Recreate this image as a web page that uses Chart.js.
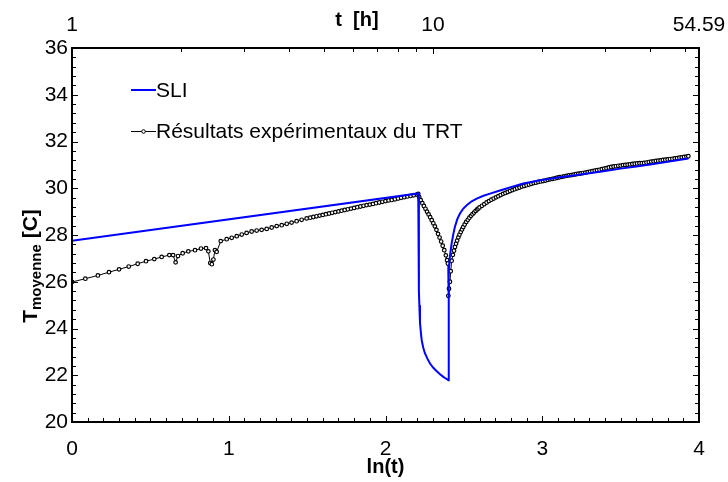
<!DOCTYPE html>
<html><head><meta charset="utf-8">
<script src="https://cdn.jsdelivr.net/npm/chart.js@4.4.0/dist/chart.umd.min.js"></script>
<style>html,body{margin:0;padding:0;background:#fff}#wrap{width:728px;height:482px}</style>
</head><body><div id="wrap"><canvas id="c" width="728" height="482"></canvas></div>
<script>
// ---- data (x = ln(t), t in hours) ----
const sliLabel = 'SLI';
const sliX = [0, 2.209, 2.213, 2.216, 2.220, 2.226, 2.231, 2.240, 2.252, 2.268, 2.284, 2.305, 2.327, 2.348, 2.369, 2.385, 2.401, 2.402, 2.405, 2.411, 2.422, 2.433, 2.443, 2.458, 2.475, 2.495, 2.518, 2.550, 2.582, 2.625, 2.667, 2.720, 2.773, 2.826, 2.879, 2.930, 2.986, 3.050, 3.102, 3.200, 3.300, 3.400, 3.500, 3.600, 3.700, 3.800, 3.932];
const sliY = [27.75, 29.78, 25.60, 25.00, 24.25, 23.80, 23.50, 23.20, 22.93, 22.70, 22.50, 22.32, 22.17, 22.04, 21.93, 21.86, 21.79, 25.50, 26.50, 27.10, 27.64, 28.05, 28.35, 28.68, 28.92, 29.12, 29.27, 29.44, 29.56, 29.68, 29.77, 29.88, 29.99, 30.10, 30.20, 30.27, 30.34, 30.41, 30.46, 30.55, 30.64, 30.74, 30.84, 30.93, 31.03, 31.13, 31.27];

const trtLabel = 'Résultats expérimentaux du TRT';
const trtX = [
 0.000, 0.085, 0.165, 0.236, 0.300, 0.362, 0.419, 0.472, 0.525, 0.572, 0.621, 0.645, 0.661, 0.676, 0.706, 0.742, 0.785, 0.823, 0.855, 0.870, 0.882, 0.892, 0.902, 0.912, 0.923, 0.949, 0.987, 1.019, 1.051, 1.083, 1.114, 1.146, 1.178, 1.210, 1.242, 1.274, 1.306, 1.338, 1.370, 1.401, 1.433, 1.465, 1.497,
 1.52, 1.54, 1.56, 1.58, 1.60, 1.62, 1.64, 1.66, 1.68, 1.70, 1.72, 1.74, 1.76, 1.78, 1.80, 1.82, 1.84, 1.86, 1.88, 1.90, 1.92, 1.94, 1.96, 1.98, 2.00, 2.02, 2.04, 2.06, 2.08, 2.10, 2.12, 2.14, 2.16, 2.18, 2.20, 2.209,
 2.215, 2.225, 2.235, 2.245, 2.255, 2.265, 2.275, 2.285, 2.295, 2.305, 2.315, 2.325, 2.335, 2.345, 2.355, 2.365, 2.375, 2.385, 2.393, 2.398, 2.401,
 2.405, 2.411, 2.416, 2.422, 2.430, 2.437, 2.443, 2.450, 2.457, 2.465, 2.472, 2.480, 2.488, 2.496, 2.505, 2.515, 2.525, 2.535, 2.545, 2.555, 2.565, 2.575, 2.585, 2.592,
 2.600, 2.615, 2.630, 2.645, 2.660, 2.675, 2.690, 2.705, 2.720, 2.735, 2.750, 2.765, 2.780, 2.795, 2.810, 2.825, 2.840, 2.855, 2.870, 2.885, 2.900, 2.915, 2.930, 2.945, 2.960, 2.975, 2.990, 3.005, 3.020, 3.035, 3.050, 3.065, 3.080, 3.095, 3.110, 3.125, 3.140, 3.155, 3.170, 3.185, 3.200, 3.215, 3.230, 3.245, 3.260, 3.275, 3.290, 3.305, 3.320, 3.335, 3.350, 3.365, 3.380, 3.395, 3.410, 3.425, 3.440, 3.455, 3.470, 3.485, 3.500, 3.515, 3.530, 3.545, 3.560, 3.575, 3.590, 3.605, 3.620, 3.635, 3.650, 3.665, 3.680, 3.695, 3.710, 3.725, 3.740, 3.755, 3.770, 3.785, 3.800, 3.815, 3.830, 3.845, 3.860, 3.875, 3.890, 3.905, 3.920, 3.932];
const trtY = [
 25.99, 26.13, 26.27, 26.41, 26.53, 26.65, 26.77, 26.88, 26.97, 27.06, 27.14, 27.14, 26.83, 27.10, 27.22, 27.30, 27.35, 27.42, 27.44, 27.30, 26.80, 26.75, 26.95, 27.35, 27.28, 27.74, 27.82, 27.88, 27.95, 28.02, 28.09, 28.15, 28.19, 28.22, 28.26, 28.32, 28.38, 28.42, 28.48, 28.53, 28.59, 28.65, 28.71,
 28.74, 28.77, 28.80, 28.83, 28.86, 28.89, 28.92, 28.95, 28.98, 29.01, 29.04, 29.07, 29.10, 29.13, 29.16, 29.19, 29.22, 29.25, 29.28, 29.30, 29.33, 29.36, 29.39, 29.42, 29.45, 29.48, 29.50, 29.53, 29.56, 29.59, 29.62, 29.65, 29.67, 29.70, 29.73, 29.76,
 29.62, 29.49, 29.36, 29.24, 29.12, 29.00, 28.88, 28.76, 28.63, 28.50, 28.37, 28.22, 28.05, 27.89, 27.72, 27.54, 27.35, 27.13, 26.92, 26.78, 25.40,
 25.70, 26.00, 26.45, 26.90, 27.15, 27.33, 27.49, 27.63, 27.76, 27.90, 28.02, 28.13, 28.24, 28.34, 28.45, 28.56, 28.65, 28.74, 28.82, 28.89, 28.96, 29.03, 29.09, 29.13,
 29.18, 29.25, 29.32, 29.39, 29.45, 29.51, 29.56, 29.61, 29.66, 29.71, 29.76, 29.80, 29.84, 29.88, 29.92, 29.96, 30.00, 30.03, 30.07, 30.10, 30.13, 30.16, 30.19, 30.22, 30.24, 30.27, 30.29, 30.31, 30.33, 30.36, 30.38, 30.40, 30.42, 30.45, 30.47, 30.49, 30.51, 30.53, 30.55, 30.56, 30.58, 30.60, 30.62, 30.63, 30.65, 30.67, 30.69, 30.71, 30.73, 30.75, 30.77, 30.79, 30.82, 30.84, 30.86, 30.89, 30.91, 30.93, 30.94, 30.96, 30.97, 30.99, 31.00, 31.01, 31.02, 31.04, 31.05, 31.06, 31.07, 31.07, 31.08, 31.10, 31.12, 31.14, 31.15, 31.17, 31.18, 31.19, 31.21, 31.22, 31.23, 31.25, 31.26, 31.28, 31.29, 31.31, 31.32, 31.34, 31.35, 31.37];

// axis ticks
const xMin = 0, xMax = 4, xStep = 1, xMinorStep = 0.1;
const yMin = 20, yMax = 36, yStep = 2, yMinorStep = 0.4;
const topLabelHours = [1, 10, 54.59];
const topLabelText = ['1', '10', '54.59'];
const topMinorHours = [2, 3, 4, 5, 6, 7, 8, 9, 20, 30, 40, 50];
const xTitle = 'ln(t)';
const topTitle = 't  [h]';
const yTitleMain = 'T', yTitleSub = 'moyenne', yTitleEnd = ' [C]';

const FONT = "'Liberation Sans', Arial, sans-serif";
Chart.defaults.font.family = FONT;
Chart.defaults.color = '#000';

const toPts = (xs, ys) => xs.map((x, i) => ({x, y: ys[i]}));

const decor = {
  id: 'decor',
  afterDraw(chart) {
    const ctx = chart.ctx, a = chart.chartArea;
    const sx = chart.scales.x, sy = chart.scales.y;
    ctx.save();
    ctx.strokeStyle = '#000';
    ctx.lineWidth = 1;
    ctx.beginPath();
    const nx = Math.round((xMax - xMin) / xMinorStep);
    for (let i = 0; i <= nx; i++) {
      const v = xMin + i * xMinorStep;
      const px = Math.round(sx.getPixelForValue(v)) + 0.5;
      const major = Math.abs(v - Math.round(v)) < 1e-6;
      const L = major ? 6 : 4;
      ctx.moveTo(px, a.bottom); ctx.lineTo(px, a.bottom - L);
    }
    topMinorHours.forEach(h => {
      const px = Math.round(sx.getPixelForValue(Math.log(h))) + 0.5;
      ctx.moveTo(px, a.top); ctx.lineTo(px, a.top + 4);
    });
    topLabelHours.forEach(h => {
      const px = Math.round(sx.getPixelForValue(Math.log(h))) + 0.5;
      ctx.moveTo(px, a.top); ctx.lineTo(px, a.top + 6);
    });
    const ny = Math.round((yMax - yMin) / yMinorStep);
    for (let i = 0; i <= ny; i++) {
      const v = yMin + i * yMinorStep;
      const py = Math.round(sy.getPixelForValue(v)) + 0.5;
      const major = Math.abs((v - yMin) / yStep - Math.round((v - yMin) / yStep)) < 1e-6;
      const L = major ? 6 : 4;
      ctx.moveTo(a.left, py); ctx.lineTo(a.left + L, py);
      ctx.moveTo(a.right, py); ctx.lineTo(a.right - L, py);
    }
    ctx.stroke();
    ctx.lineWidth = 2;
    ctx.strokeRect(a.left, a.top, a.right - a.left, a.bottom - a.top);

    // legend
    const ds = chart.data.datasets;
    ctx.font = '21px ' + FONT;
    ctx.textBaseline = 'middle';
    ctx.fillStyle = '#000';
    ctx.strokeStyle = ds[0].borderColor; ctx.lineWidth = 2;
    ctx.beginPath(); ctx.moveTo(131, 90); ctx.lineTo(156, 90); ctx.stroke();
    ctx.fillText(ds[0].label, 156, 91);
    ctx.strokeStyle = '#000'; ctx.lineWidth = 1;
    ctx.beginPath(); ctx.moveTo(131, 131.5); ctx.lineTo(156, 131.5); ctx.stroke();
    ctx.beginPath(); ctx.arc(143.5, 131.5, 1.8, 0, Math.PI * 2);
    ctx.fillStyle = '#fff'; ctx.fill(); ctx.stroke();
    ctx.fillStyle = '#000';
    ctx.fillText(ds[1].label, 156, 132);

    // top title
    ctx.font = 'bold 20px ' + FONT;
    ctx.textAlign = 'center';
    ctx.fillText(topTitle, 357, 20);

    // y title (rotated with subscript)
    ctx.translate(30, 266);
    ctx.rotate(-Math.PI / 2);
    const fMain = 'bold 21px ' + FONT, fSub = 'bold 15px ' + FONT;
    ctx.font = fMain; const w1 = ctx.measureText(yTitleMain).width, w3 = ctx.measureText(yTitleEnd).width;
    ctx.font = fSub; const w2 = ctx.measureText(yTitleSub).width;
    let x0 = -(w1 + w2 + w3) / 2;
    ctx.textAlign = 'left';
    ctx.textBaseline = 'alphabetic';
    ctx.font = fMain; ctx.fillText(yTitleMain, x0, 7);
    ctx.font = fSub; ctx.fillText(yTitleSub, x0 + w1, 11);
    ctx.font = fMain; ctx.fillText(yTitleEnd, x0 + w1 + w2, 7);
    ctx.restore();
  }
};

const noPad = s => { s.paddingLeft = 0; s.paddingRight = 0; };

new Chart(document.getElementById('c'), {
  type: 'line',
  data: {
    datasets: [
      { label: sliLabel, data: toPts(sliX, sliY), borderColor: '#0000ff', borderWidth: 2, pointRadius: 0, fill: false, tension: 0 },
      { label: trtLabel, data: toPts(trtX, trtY), borderColor: '#000', borderWidth: 1, pointRadius: 1.8, pointBorderWidth: 1.2, pointBackgroundColor: '#fff', pointBorderColor: '#000', fill: false, tension: 0 }
    ]
  },
  options: {
    responsive: false, animation: false, devicePixelRatio: 1,
    layout: { padding: { left: 0, right: 29, top: 0, bottom: 0 } },
    plugins: { legend: { display: false }, tooltip: { enabled: false } },
    scales: {
      x: {
        type: 'linear', position: 'bottom', min: xMin, max: xMax,
        afterFit: s => { s.height = 60; noPad(s); },
        ticks: { stepSize: xStep, font: { size: 21 }, padding: 15, maxRotation: 0, color: '#000' },
        grid: { display: false, drawTicks: false, tickLength: 0 },
        border: { display: false },
        title: { display: true, text: xTitle, font: { size: 20, weight: 'bold' }, padding: { top: 0, bottom: 3 }, color: '#000' }
      },
      x2: {
        type: 'linear', position: 'top', min: xMin, max: xMax,
        afterFit: s => { s.height = 48; noPad(s); },
        afterBuildTicks: s => { s.ticks = topLabelHours.map(h => ({ value: Math.log(h) })); },
        ticks: { autoSkip: false, maxRotation: 0, font: { size: 21 }, padding: 10, color: '#000',
                 callback: (v, i) => topLabelText[i] },
        grid: { display: false, drawTicks: false, tickLength: 0 },
        border: { display: false }
      },
      y: {
        type: 'linear', position: 'left', min: yMin, max: yMax,
        afterFit: s => { s.width = 72; },
        ticks: { stepSize: yStep, font: { size: 21 }, padding: 4, color: '#000' },
        grid: { display: false, drawTicks: false, tickLength: 0 },
        border: { display: false }
      }
    }
  },
  plugins: [decor]
});
</script>
</body></html>
